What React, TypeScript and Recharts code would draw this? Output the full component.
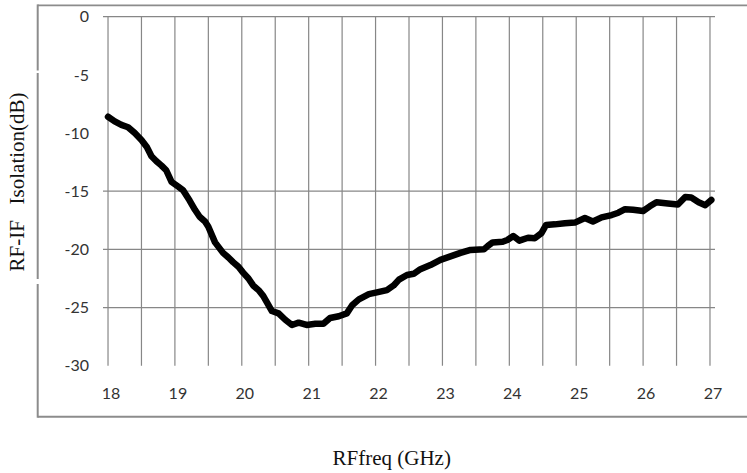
import React from "react";
import { LineChart, Line, XAxis, YAxis, CartesianGrid } from "recharts";

const freqGHz = [
  18.0, 18.1, 18.2, 18.3, 18.4, 18.5, 18.58, 18.65, 18.72, 18.8, 18.87, 18.95,
  19.05, 19.12, 19.22, 19.3, 19.37, 19.45, 19.5, 19.6, 19.72, 19.8, 19.87, 19.95,
  20.02, 20.1, 20.17, 20.25, 20.32, 20.38, 20.45, 20.55, 20.65, 20.75, 20.85, 20.97,
  21.1, 21.22, 21.32, 21.45, 21.57, 21.65, 21.75, 21.9, 22.02, 22.17, 22.27, 22.35,
  22.47, 22.57, 22.67, 22.82, 22.97, 23.12, 23.27, 23.42, 23.62, 23.68, 23.75, 23.9,
  23.97, 24.06, 24.15, 24.28, 24.38, 24.48, 24.55, 24.68, 24.83, 24.98, 25.13, 25.25,
  25.38, 25.53, 25.63, 25.73, 25.85, 26.0, 26.1, 26.2, 26.37, 26.52, 26.63, 26.72,
  26.83, 26.93, 27.02,
];

const isolationDb = [
  -8.6, -9.0, -9.3, -9.5, -10.0, -10.6, -11.2, -12.0, -12.4, -12.8, -13.2, -14.2,
  -14.6, -14.9, -15.8, -16.6, -17.2, -17.6, -18.05, -19.4, -20.3, -20.7, -21.1, -21.5,
  -22.0, -22.5, -23.1, -23.5, -24.0, -24.6, -25.3, -25.5, -26.05, -26.5, -26.3, -26.5,
  -26.4, -26.4, -25.9, -25.75, -25.5, -24.8, -24.3, -23.85, -23.7, -23.5, -23.1, -22.6,
  -22.2, -22.1, -21.7, -21.35, -20.9, -20.6, -20.3, -20.05, -20.0, -19.7, -19.4, -19.35,
  -19.2, -18.85, -19.25, -19.0, -19.05, -18.6, -17.9, -17.85, -17.75, -17.7, -17.3, -17.6,
  -17.25, -17.05, -16.85, -16.55, -16.6, -16.7, -16.3, -15.95, -16.05, -16.15, -15.5, -15.55,
  -15.95, -16.2, -15.75,
];

const xTicks = [18, 19, 20, 21, 22, 23, 24, 25, 26, 27];
const yTicks = [0, -5, -10, -15, -20, -25, -30];
const verticalGrid = [18, 18.5, 19, 19.5, 20, 20.5, 21, 21.5, 22, 22.5, 23, 23.5, 24, 24.5, 25, 25.5, 26, 26.5, 27];
const horizontalGrid = [0, -15, -20, -25];

const xLabel = "RFfreq (GHz)";
const yLabel = "RF-IF   Isolation(dB)";

const data = freqGHz.map((f, i) => ({ f, v: isolationDb[i] }));

const tickFont = { fontFamily: "Lato, 'Open Sans', sans-serif", fontSize: 16, fill: "#333" };
const frameColor = "#8c8c8c";

export default function App() {
  return (
    <div style={{ position: "absolute", left: 0, top: 0, width: 747, height: 473, background: "#fff" }}>
      <LineChart
        width={747}
        height={473}
        data={data}
        margin={{ top: 16.7, right: 32, bottom: 67.3, left: 43 }}
      >
        <CartesianGrid
          stroke="#878787"
          strokeWidth={1.2}
          verticalValues={verticalGrid}
          horizontalValues={horizontalGrid}
        />
        <XAxis
          type="number"
          dataKey="f"
          domain={[17.925, 27.075]}
          ticks={xTicks}
          allowDataOverflow
          axisLine={false}
          tickLine={false}
          tickSize={0}
          tickMargin={22}
          height={40}
          tick={{ ...tickFont, dx: 3 }}
        />
        <YAxis
          type="number"
          domain={[-30, 0]}
          ticks={yTicks}
          allowDataOverflow
          axisLine={false}
          tickLine={false}
          tickSize={0}
          tickMargin={14}
          width={60}
          tick={tickFont}
        />
        <Line
          type="linear"
          dataKey="v"
          stroke="#000"
          strokeWidth={6.5}
          strokeLinejoin="round"
          strokeLinecap="round"
          dot={false}
          isAnimationActive={false}
        />
      </LineChart>
      <svg
        width={747}
        height={473}
        style={{ position: "absolute", left: 0, top: 0, pointerEvents: "none" }}
      >
        <line x1={37.7} y1={5.3} x2={747} y2={5.3} stroke={frameColor} strokeWidth={1.8} />
        <line x1={37.7} y1={416.7} x2={747} y2={416.7} stroke={frameColor} strokeWidth={2} />
        <line x1={37.7} y1={4.4} x2={37.7} y2={70.5} stroke={frameColor} strokeWidth={2} />
        <line x1={37.7} y1={73} x2={37.7} y2={279} stroke={frameColor} strokeWidth={2} />
        <line x1={37.7} y1={284} x2={37.7} y2={417.7} stroke={frameColor} strokeWidth={2} />
        <text
          transform="translate(24,182) rotate(-90)"
          textAnchor="middle"
          style={{ whiteSpace: "pre" }}
          fontFamily="'Liberation Serif', 'Times New Roman', serif"
          fontSize={21}
          fill="#111"
        >
          {yLabel}
        </text>
        <text
          x={391.7}
          y={465}
          textAnchor="middle"
          fontFamily="'Liberation Serif', 'Times New Roman', serif"
          fontSize={21}
          fill="#111"
        >
          {xLabel}
        </text>
      </svg>
    </div>
  );
}
